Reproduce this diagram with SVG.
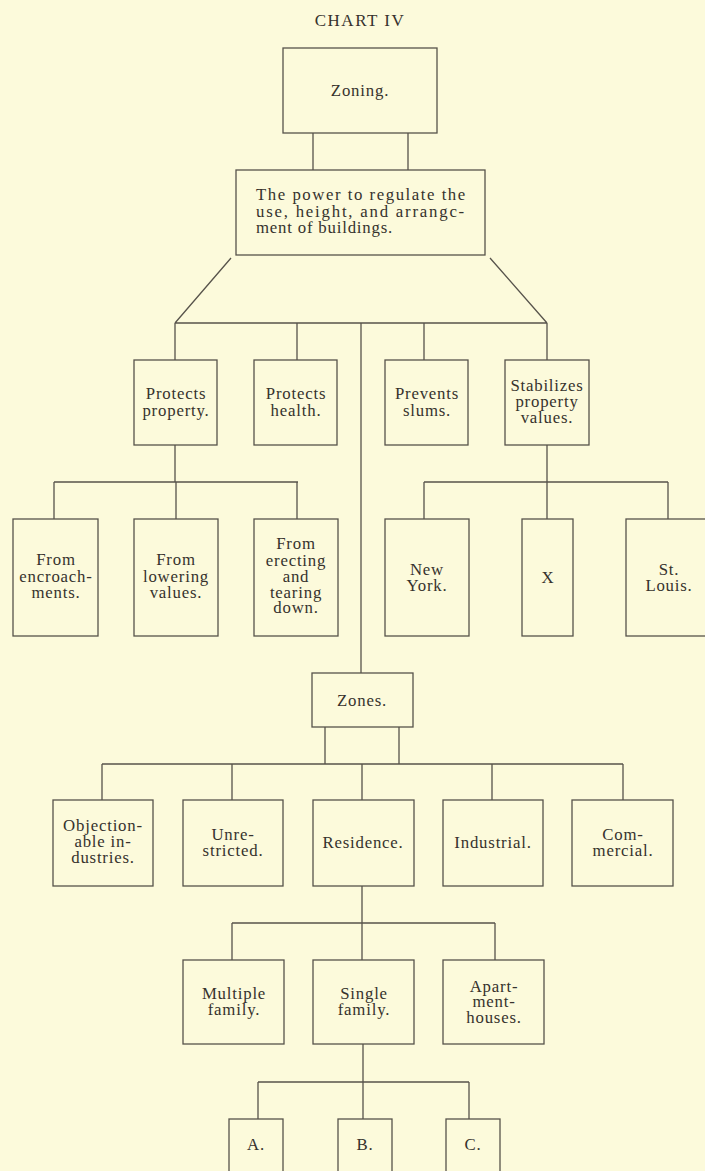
<svg xmlns="http://www.w3.org/2000/svg" width="705" height="1171" viewBox="0 0 705 1171">
<style>
.bg{fill:#fcfadb}
.box{fill:none;stroke:#57534b;stroke-width:1.3}
.ln{fill:none;stroke:#57534b;stroke-width:1.3}
text{font-family:"Liberation Serif",serif;font-size:16.8px;fill:#36322d;letter-spacing:0.8px}
.c{text-anchor:middle}
.title{font-size:17px;letter-spacing:1.5px}
</style>
<rect class="bg" x="0" y="0" width="705" height="1171"/>
<text class="c title" x="360" y="26">CHART IV</text>

<g id="connectors">
<path class="ln" d="M313,133V170M408,133V170"/>
<path class="ln" d="M231,258L175,323M490,258L547,323M175,323H547"/>
<path class="ln" d="M175,323V360M297,323V360M424,323V360M547,323V360"/>
<path class="ln" d="M361,323V673"/>
<path class="ln" d="M175,445V482M54,482H298M54,482V519M176,482V519M297,482V519"/>
<path class="ln" d="M547,445V482M424,482H668M424,482V519M547,482V519M668,482V519"/>
<path class="ln" d="M325,727V764M399,727V764M102,764H623M102,764V800M232,764V800M362,764V800M492,764V800M623,764V800"/>
<path class="ln" d="M362,886V923M232,923H495M232,923V960M362,923V960M495,923V960"/>
<path class="ln" d="M363,1044V1082M258,1082H469M258,1082V1119M363,1082V1119M469,1082V1119"/>
</g>

<g id="zoning"><rect class="box" x="283" y="48" width="154" height="85"/><text class="c" x="360" y="96">Zoning.</text></g>
<g id="power"><rect class="box" x="236" y="170" width="249" height="85"/>
<text x="256" y="200" textLength="210" lengthAdjust="spacing">The power to regulate the</text>
<text x="256" y="216.5" textLength="209" lengthAdjust="spacing">use, height, and arrangc-</text>
<text x="256" y="232.5">ment of buildings.</text></g>

<g id="protects-property"><rect class="box" x="134" y="360" width="83" height="85"/><text class="c" x="176" y="399">Protects</text><text class="c" x="176" y="416">property.</text></g>
<g id="protects-health"><rect class="box" x="254" y="360" width="83" height="85"/><text class="c" x="296" y="399">Protects</text><text class="c" x="296" y="416">health.</text></g>
<g id="prevents-slums"><rect class="box" x="385" y="360" width="83" height="85"/><text class="c" x="427" y="399">Prevents</text><text class="c" x="427" y="416">slums.</text></g>
<g id="stabilizes"><rect class="box" x="505" y="360" width="84" height="85"/><text class="c" x="547" y="391">Stabilizes</text><text class="c" x="547" y="407">property</text><text class="c" x="547" y="423">values.</text></g>

<g id="from-encroachments"><rect class="box" x="13" y="519" width="85" height="117"/><text class="c" x="56" y="565">From</text><text class="c" x="56" y="582">encroach-</text><text class="c" x="56" y="598">ments.</text></g>
<g id="from-lowering"><rect class="box" x="134" y="519" width="84" height="117"/><text class="c" x="176" y="565">From</text><text class="c" x="176" y="582">lowering</text><text class="c" x="176" y="598">values.</text></g>
<g id="from-erecting"><rect class="box" x="254" y="519" width="84" height="117"/><text class="c" x="296" y="549">From</text><text class="c" x="296" y="566">erecting</text><text class="c" x="296" y="582">and</text><text class="c" x="296" y="598">tearing</text><text class="c" x="296" y="613">down.</text></g>
<g id="new-york"><rect class="box" x="385" y="519" width="84" height="117"/><text class="c" x="427" y="575">New</text><text class="c" x="427" y="591">York.</text></g>
<g id="x"><rect class="box" x="522" y="519" width="51" height="117"/><text class="c" x="548" y="583">X</text></g>
<g id="st-louis"><rect class="box" x="626" y="519" width="90" height="117"/><text class="c" x="669" y="575">St.</text><text class="c" x="669" y="591">Louis.</text></g>

<g id="zones"><rect class="box" x="312" y="673" width="101" height="54"/><text class="c" x="362" y="706">Zones.</text></g>

<g id="objectionable"><rect class="box" x="53" y="800" width="100" height="86"/><text class="c" x="103" y="831">Objection-</text><text class="c" x="103" y="847">able in-</text><text class="c" x="103" y="863">dustries.</text></g>
<g id="unrestricted"><rect class="box" x="183" y="800" width="100" height="86"/><text class="c" x="233" y="840">Unre-</text><text class="c" x="233" y="856">stricted.</text></g>
<g id="residence"><rect class="box" x="313" y="800" width="101" height="86"/><text class="c" x="363" y="848">Residence.</text></g>
<g id="industrial"><rect class="box" x="443" y="800" width="100" height="86"/><text class="c" x="493" y="848">Industrial.</text></g>
<g id="commercial"><rect class="box" x="572" y="800" width="101" height="86"/><text class="c" x="623" y="840">Com-</text><text class="c" x="623" y="856">mercial.</text></g>

<g id="multiple-family"><rect class="box" x="183" y="960" width="101" height="84"/><text class="c" x="234" y="999">Multiple</text><text class="c" x="234" y="1015">family.</text></g>
<g id="single-family"><rect class="box" x="313" y="960" width="101" height="84"/><text class="c" x="364" y="999">Single</text><text class="c" x="364" y="1015">family.</text></g>
<g id="apartment-houses"><rect class="box" x="443" y="960" width="101" height="84"/><text class="c" x="494" y="992">Apart-</text><text class="c" x="494" y="1007">ment-</text><text class="c" x="494" y="1023">houses.</text></g>

<g id="a"><rect class="box" x="229" y="1119" width="54" height="70"/><text class="c" x="256" y="1150">A.</text></g>
<g id="b"><rect class="box" x="338" y="1119" width="54" height="70"/><text class="c" x="365" y="1150">B.</text></g>
<g id="c"><rect class="box" x="446" y="1119" width="54" height="70"/><text class="c" x="473" y="1150">C.</text></g>
</svg>
